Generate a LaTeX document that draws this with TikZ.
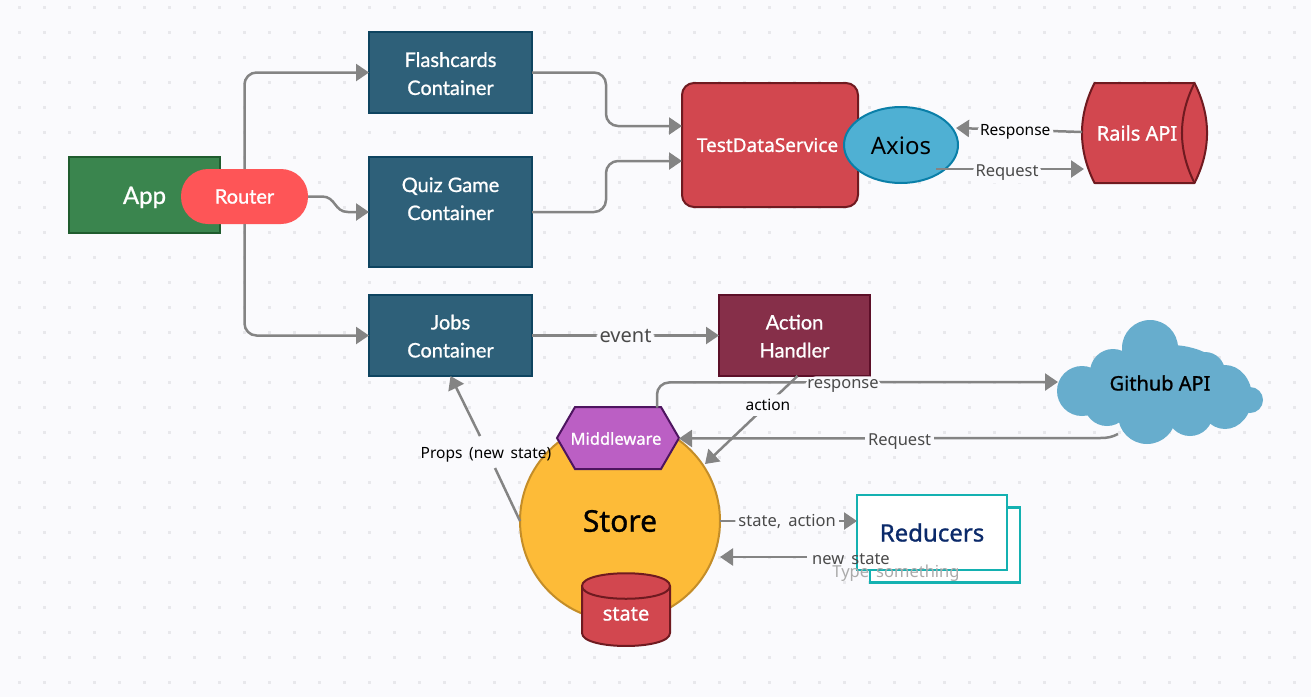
\documentclass[tikz,border=0pt]{standalone}
\usepackage{fontspec}
\setmainfont{Noto Sans}
\newfontfamily\latofont{Lato}[FakeBold=1]
\newfontfamily\heavyfont{Noto Sans}[FakeBold=1]
\usetikzlibrary{arrows.meta, positioning, shapes.geometric}
\definecolor{pagebg}{HTML}{FAFAFD}
\definecolor{griddot}{HTML}{E8E8EC}
\definecolor{flowgray}{HTML}{848484}
\definecolor{labelgray}{HTML}{4A4A4A}
\definecolor{redfill}{HTML}{D2474F}
\definecolor{redline}{HTML}{6F1A20}
\definecolor{tealline}{HTML}{14B1B1}
\newcommand{\px}[1]{\fontsize{#1}{28}\selectfont}
\newcommand{\topgap}[1]{\rule{0pt}{#1pt}}
\tikzset{%
	box/.style={draw, rectangle, inner sep=0pt, outer sep=0pt, line width=2pt, text=white, align=center},
	container/.style={box, minimum width=163, minimum height=81, fill={rgb,255:red,46;green,96;blue,121},
		draw={rgb,255:red,14;green,68;blue,96}, font=\latofont\fontsize{20}{28}\selectfont},
	appbox/.style={box, minimum width=151, minimum height=76, fill={rgb,255:red,58;green,133;blue,78},
		draw={rgb,255:red,31;green,92;blue,46}, font=\latofont\px{24}},
	routerbox/.style={rectangle, rounded corners=27pt, minimum width=127, minimum height=55, inner sep=0pt, outer sep=0pt,
		fill={rgb,255:red,254;green,85;blue,87}, text=white, font=\latofont\px{20}},
	service/.style={box, rounded corners=12pt, minimum width=176, minimum height=124, fill=redfill, draw=redline, font=\heavyfont\px{19}},
	handler/.style={box, minimum width=151, minimum height=81, fill={rgb,255:red,134;green,47;blue,73},
		draw={rgb,255:red,92;green,15;blue,40}, font=\latofont\fontsize{20}{28}\selectfont},
	axiosnode/.style={draw={rgb,255:red,10;green,127;blue,168}, ellipse, line width=2pt, minimum width=114, minimum height=76, inner sep=0pt,
		outer sep=0pt, fill={rgb,255:red,79;green,176;blue,211}, font=\px{24}},
	drumline/.style={draw=redline, fill=redfill, line width=2pt, line join=round},
	shapetext/.style={inner sep=0pt, outer sep=0pt, text=white, font=\heavyfont\px{20}},
	hexline/.style={draw={rgb,255:red,78;green,21;blue,96}, fill={rgb,255:red,187;green,95;blue,196}, line width=2pt},
	storenode/.style={circle, draw={rgb,255:red,196;green,141;blue,40}, line width=2pt, minimum size=200, inner sep=0pt, outer sep=0pt,
		fill={rgb,255:red,253;green,187;blue,56}, font=\heavyfont\px{30}},
	sheet/.style={draw=tealline, fill=white, line width=2.5pt, minimum width=150, minimum height=75, inner sep=0pt, outer sep=0pt},
	cloudpart/.style={fill={rgb,255:red,103;green,173;blue,205}},
	flow/.style={draw=flowgray, line width=2.5pt, rounded corners=12pt, -{Triangle[length=13pt,width=17pt]}},
	stub/.style={draw=flowgray, line width=2.5pt},
	edgetext/.style={fill=pagebg, inner sep=3pt, yshift=-1pt, text=labelgray, font=\px{16.5}},
	darktext/.style={edgetext, text=black, font=\px{15.5}}
}
\begin{document}
\begin{tikzpicture}[x=1pt, y=-1pt]
	\fill[pagebg] (0,0) rectangle (1311,697);
	\useasboundingbox (0,0) rectangle (1311,697);
	\foreach \dx in {19,44,...,1294}
		\foreach \dy in {7,32,...,682}
			\fill[griddot] (\dx-1.5,\dy-1.5) rectangle ++(3,3);

	\node[appbox] (app) at (144.5,195) {\topgap{22}App};
	\node[routerbox] (router) at (244.5,196.5) {Router};
	\node[container] (flashcards) at (450.5,72.5) {\topgap{17}Flashcards\\Container};
	\node[container, minimum height=110] (quiz) at (450.5,212) {\topgap{16}Quiz Game\\Container\\\mbox{}};
	\node[container] (jobs) at (450.5,335.5) {\topgap{16}Jobs\\Container};
	\node[service] (tds) at (770,145) {TestDataService\hspace*{5pt}};
	\node[axiosnode] (axios) at (901,145) {\topgap{19}Axios};
	\draw[drumline] (1094.5,83) -- (1194.5,83) .. controls (1211.2,116.3) and (1211.2,149.7) .. (1194.5,183) -- (1094.5,183) .. controls (1077.8,149.7) and (1077.8,116.3) .. (1094.5,83) -- cycle;
	\draw[drumline] (1194.5,83) .. controls (1177.8,116.3) and (1177.8,149.7) .. (1194.5,183);
	\node[shapetext, minimum width=110] (rails) at (1137,133) {Rails API};
	\node[handler] (action) at (794.5,335.5) {\topgap{16}Action\\Handler};

	\node[storenode] (store) at (620,521) {Store};
	\draw[hexline] (575,407) -- (661,407) -- (679,438) -- (661,469) -- (575,469) -- (557,438) -- cycle;
	\node[shapetext, minimum width=126, minimum height=62, font=\heavyfont\px{16.5}] (middleware) at (616,438.5) {Middleware};
	\draw[drumline] (582,586) -- (582,633) .. controls (582,650.3) and (670,650.3) .. (670,633) -- (670,586) .. controls (670,569) and (582,569) .. (582,586) -- cycle;
	\draw[drumline] (582,586) .. controls (582,603) and (670,603) .. (670,586);
	\node[shapetext] (state) at (626,614) {state};
	\node[sheet] (sheetback) at (945,545) {};
	\node[sheet, text={rgb,255:red,11;green,42;blue,106}, font=\heavyfont\px{24}] (reducers) at (932,532.5) {Reducers};

	\foreach \cx/\cy/\rx/\ry in {1150/348/28/28, 1082/391/25/25, 1113/372/23/23, 1205/372/20/20, 1225/397/27/32,
		1250/400/13/13, 1147/415/29/29, 1107/403/23/23, 1190/413/23/23, 1170/385/60/40}
		\fill[cloudpart] (\cx,\cy) ellipse[x radius=\rx, y radius=\ry];
	\node[font=\heavyfont\px{20}] (github) at (1160,383) {Github API};
	\coordinate (githubin) at (1058,382);
	\coordinate (githubout) at (1118,434);

	\draw[flow] (router.north) |- (flashcards.west);
	\draw[flow, sharp corners] (router.east) -- ++(14,0) .. controls ++(14,0) and (334,212) .. (348,212) -- (quiz.west);
	\draw[flow] (router.south) |- (jobs.west);
	\draw[flow] (flashcards.east) -- ++(74,0) |- ([yshift=19pt]tds.west);
	\draw[flow] (quiz.east) -- ++(74,0) |- ([yshift=-16pt]tds.west);
	\draw[flow] ([yshift=1pt]rails.west) -- node[darktext, pos=.53, yshift=-1pt] (responselabel) {Response} ([xshift=-2pt,yshift=17pt]axios.east);
	\draw[flow] ([xshift=35pt,yshift=-24pt]axios.center) -- node[edgetext, pos=.48, yshift=-2.5pt] (requestlabel) {Request} ([xshift=2pt,yshift=-36pt]rails.west);
	\draw[flow] (jobs.east) -- node[edgetext, font=\px{20}] (eventlabel) {event} (action.west);
	\draw[flow] ([xshift=41pt]middleware.north) -- ++(0,-25) -- node[edgetext, pos=.464, yshift=-2.5pt] (responselabeltwo) {response} (githubin);
	\draw[flow] ([xshift=3pt]action.south) -- node[darktext, pos=.32, inner sep=5pt] (actionlabel) {action} (705,464);
	\draw[flow, sharp corners] (githubout) .. controls (1112,437) and (1108,438) .. (1100,438) -- node[edgetext, pos=.476, yshift=-2.5pt] (requestlabeltwo) {Request} (middleware.east);
	\coordinate (propslow) at (495,468);
	\coordinate (propshigh) at (480,436);
	\draw[stub] (store.west) -- (propslow);
	\draw[flow] (propshigh) -- (jobs.south);
	\node[text=black, font=\px{15.5}] (propslabel) at (486,455) {Props\, (new\, state)};
	\draw[flow] (store.east) -- node[edgetext, pos=.49, yshift=1pt] (statelabel) {state,\, action} (reducers.west |- store.east);
	\coordinate (newstatefrom) at (807,557);
	\draw[flow] (newstatefrom) -- (store.east |- newstatefrom);
	\node[text=labelgray, font=\px{16.5}] (newstatelabel) at (851,559) {new\, state};
	\node[text={rgb,255:red,170;green,170;blue,170}, font=\px{16.5}] (typelabel) at (896,573) {Type\, something};
\end{tikzpicture}
\end{document}
